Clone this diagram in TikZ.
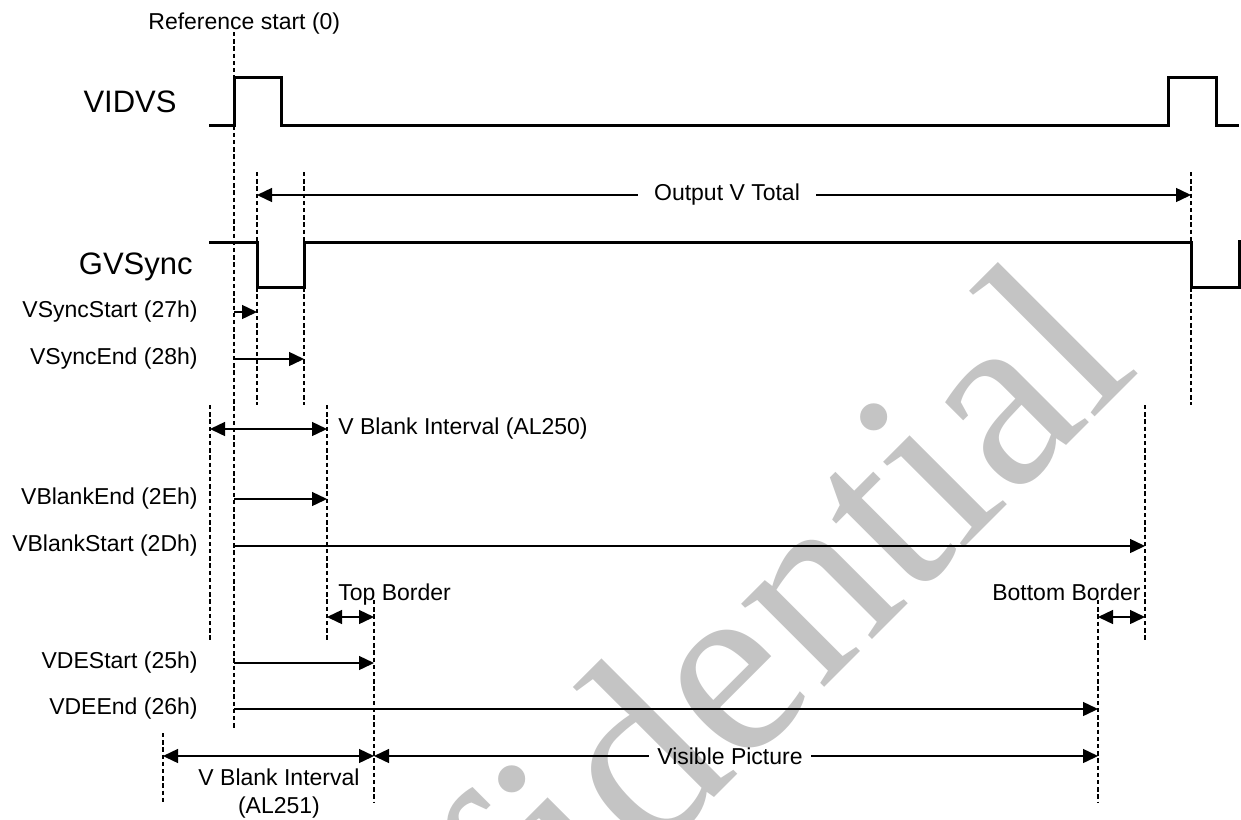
\documentclass[tikz,border=0pt]{standalone}
\usepackage{fontspec}
\setmainfont{Liberation Sans}
\newfontfamily\wmfont{Liberation Serif}
\usetikzlibrary{arrows.meta}
\definecolor{wmark}{HTML}{C4C4C4}

\begin{document}
\begin{tikzpicture}[x=0.5pt, y=-0.5pt,
  sig/.style={line width=1.5pt, line join=miter},
  guide/.style={line width=0.6pt, dash pattern=on 2.2pt off 1.4pt},
  arr/.style={-{Triangle[length=7.5pt, width=7pt]}, line width=0.7pt},
  dbl/.style={{Triangle[length=7.5pt, width=7pt]}-{Triangle[length=7.5pt, width=7pt]}, line width=0.7pt},
  lbl/.style={font=\fontsize{11.5}{14}\selectfont, inner sep=0pt},
  big/.style={font=\fontsize{15.5}{18}\selectfont, inner sep=0pt},
  wm/.style={font=\wmfont\fontsize{128}{128}\selectfont, text=wmark, inner sep=0pt}
]
  \useasboundingbox (0,0) rectangle (1241,819);

  % watermark
  \node[wm, rotate=45, anchor=base east] (wmk) at (1142,370) {Confidential};

  % signal names
  \node[big, anchor=base east] (vidvs) at (177,112) {VIDVS};
  \node[big, anchor=base east] (gvsync) at (193,274) {GVSync};

  % waveforms
  \draw[sig] (209,125) -- (234,125) -- (234,77) -- (281,77) -- (281,125)
    -- (1168,125) -- (1168,77) -- (1216,77) -- (1216,125) -- (1239,125);
  \draw[sig] (209,242) -- (257,242) -- (257,287) -- (304,287) -- (304,242)
    -- (1191,242) -- (1191,287) -- (1239,287) -- (1239,240);

  % reference start
  \node[lbl, anchor=base west] (refstart) at (148,29) {Reference start (0)};
  \coordinate (ref) at (234,32);  \coordinate (ref-b) at (234,730);
  \draw[guide] (ref) -- (ref-b);

  % dashed guides
  \coordinate (sync-a) at (257,172);  \coordinate (sync-a-b) at (257,405);
  \coordinate (sync-b) at (304,172);  \coordinate (sync-b-b) at (304,405);
  \coordinate (total) at (1191,172);  \coordinate (total-b) at (1191,405);
  \coordinate (blank-a) at (210,405); \coordinate (blank-a-b) at (210,640);
  \coordinate (blank-b) at (327,405); \coordinate (blank-b-b) at (327,640);
  \coordinate (blank-c) at (1145,405); \coordinate (blank-c-b) at (1145,640);
  \coordinate (de-a) at (374,600);    \coordinate (de-a-b) at (374,803);
  \coordinate (de-b) at (1098,600);   \coordinate (de-b-b) at (1098,803);
  \coordinate (outer) at (163,733);   \coordinate (outer-b) at (163,803);
  \draw[guide] (sync-a) -- (sync-a-b);
  \draw[guide] (sync-b) -- (sync-b-b);
  \draw[guide] (total) -- (total-b);
  \draw[guide] (blank-a) -- (blank-a-b);
  \draw[guide] (blank-b) -- (blank-b-b);
  \draw[guide] (blank-c) -- (blank-c-b);
  \draw[guide] (de-a) -- (de-a-b);
  \draw[guide] (de-b) -- (de-b-b);
  \draw[guide] (outer) -- (outer-b);

  % Output V Total
  \node[lbl, inner xsep=8pt] (vtotal) at (727,195) {Output V Total};
  \draw[arr] (vtotal.west) -- (sync-a |- vtotal);
  \draw[arr] (vtotal.east) -- (total |- vtotal);

  % sync registers
  \node[lbl, anchor=east] (vss) at (198,312) {VSyncStart (27h)};
  \draw[arr] (ref |- vss) -- (sync-a |- vss);
  \node[lbl, anchor=east] (vse) at (198,359) {VSyncEnd (28h)};
  \draw[arr] (ref |- vse) -- (sync-b |- vse);

  % blank interval
  \node[lbl, anchor=west] (vbi1) at (338,429) {V Blank Interval (AL250)};
  \draw[dbl] (blank-a |- vbi1) -- (blank-b |- vbi1);
  \node[lbl, anchor=east] (vbe) at (198,499) {VBlankEnd (2Eh)};
  \draw[arr] (ref |- vbe) -- (blank-b |- vbe);
  \node[lbl, anchor=east] (vbs) at (198,546) {VBlankStart (2Dh)};
  \draw[arr] (ref |- vbs) -- (blank-c |- vbs);

  % borders
  \coordinate (border-row) at (0,617);
  \node[lbl, anchor=base west] (topb) at (338,600) {Top Border};
  \draw[dbl] (blank-b |- border-row) -- (de-a |- border-row);
  \node[lbl, anchor=base east] (botb) at (1141,600) {Bottom Border};
  \draw[dbl] (de-b |- border-row) -- (blank-c |- border-row);

  % display enable
  \node[lbl, anchor=east] (vds) at (198,663) {VDEStart (25h)};
  \draw[arr] (ref |- vds) -- (de-a |- vds);
  \node[lbl, anchor=east] (vdee) at (198,709) {VDEEnd (26h)};
  \draw[arr] (ref |- vdee) -- (de-b |- vdee);

  % bottom intervals
  \node[lbl, inner xsep=4pt] (vis) at (730,756) {Visible Picture};
  \draw[arr] (vis.west) -- (de-a |- vis);
  \draw[arr] (vis.east) -- (de-b |- vis);
  \draw[dbl] (outer |- vis) -- (de-a |- vis);
  \node[lbl, align=center, anchor=north] (vbi2) at (279,768)
    {V Blank Interval\\(AL251)};
\end{tikzpicture}
\end{document}
